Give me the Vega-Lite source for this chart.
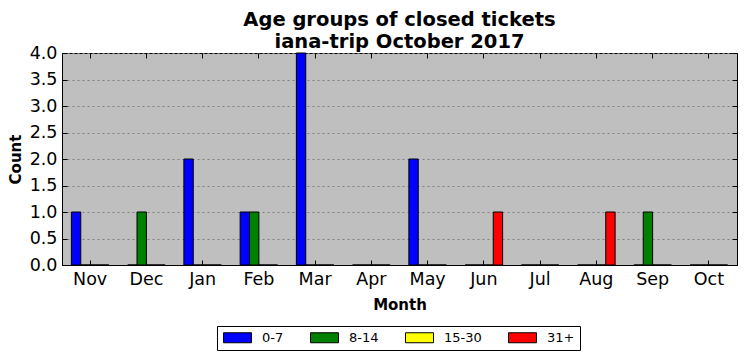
{
  "$schema": "https://vega.github.io/schema/vega-lite/v6.json",
  "width": 675,
  "height": 212,
  "autosize": {"type": "none"},
  "padding": {"left": 62, "top": 53, "right": 9, "bottom": 96},
  "background": "white",
  "title": {
    "text": ["Age groups of closed tickets", "iana-trip October 2017"],
    "font": "DejaVu Sans",
    "fontSize": 19.5,
    "fontWeight": "bold",
    "color": "black",
    "anchor": "middle",
    "lineHeight": 22,
    "offset": -8
  },
  "config": {
    "view": {"fill": "#bfbfbf", "stroke": "black", "strokeWidth": 1},
    "axis": {
      "labelFont": "DejaVu Sans",
      "labelFontSize": 17.5,
      "labelColor": "black",
      "titleFont": "DejaVu Sans",
      "titleFontSize": 15,
      "titleFontWeight": "bold",
      "titleColor": "black",
      "domainColor": "black",
      "tickColor": "black",
      "tickSize": -5,
      "tickWidth": 1
    },
    "legend": {
      "labelFont": "DejaVu Sans",
      "labelFontSize": 13,
      "labelColor": "black"
    }
  },
  "data": {
    "values": [
      {"month": "Nov", "group": "0-7", "count": 1},
      {"month": "Nov", "group": "8-14", "count": 0},
      {"month": "Nov", "group": "15-30", "count": 0},
      {"month": "Nov", "group": "31+", "count": 0},
      {"month": "Dec", "group": "0-7", "count": 0},
      {"month": "Dec", "group": "8-14", "count": 1},
      {"month": "Dec", "group": "15-30", "count": 0},
      {"month": "Dec", "group": "31+", "count": 0},
      {"month": "Jan", "group": "0-7", "count": 2},
      {"month": "Jan", "group": "8-14", "count": 0},
      {"month": "Jan", "group": "15-30", "count": 0},
      {"month": "Jan", "group": "31+", "count": 0},
      {"month": "Feb", "group": "0-7", "count": 1},
      {"month": "Feb", "group": "8-14", "count": 1},
      {"month": "Feb", "group": "15-30", "count": 0},
      {"month": "Feb", "group": "31+", "count": 0},
      {"month": "Mar", "group": "0-7", "count": 4},
      {"month": "Mar", "group": "8-14", "count": 0},
      {"month": "Mar", "group": "15-30", "count": 0},
      {"month": "Mar", "group": "31+", "count": 0},
      {"month": "Apr", "group": "0-7", "count": 0},
      {"month": "Apr", "group": "8-14", "count": 0},
      {"month": "Apr", "group": "15-30", "count": 0},
      {"month": "Apr", "group": "31+", "count": 0},
      {"month": "May", "group": "0-7", "count": 2},
      {"month": "May", "group": "8-14", "count": 0},
      {"month": "May", "group": "15-30", "count": 0},
      {"month": "May", "group": "31+", "count": 0},
      {"month": "Jun", "group": "0-7", "count": 0},
      {"month": "Jun", "group": "8-14", "count": 0},
      {"month": "Jun", "group": "15-30", "count": 0},
      {"month": "Jun", "group": "31+", "count": 1},
      {"month": "Jul", "group": "0-7", "count": 0},
      {"month": "Jul", "group": "8-14", "count": 0},
      {"month": "Jul", "group": "15-30", "count": 0},
      {"month": "Jul", "group": "31+", "count": 0},
      {"month": "Aug", "group": "0-7", "count": 0},
      {"month": "Aug", "group": "8-14", "count": 0},
      {"month": "Aug", "group": "15-30", "count": 0},
      {"month": "Aug", "group": "31+", "count": 1},
      {"month": "Sep", "group": "0-7", "count": 0},
      {"month": "Sep", "group": "8-14", "count": 1},
      {"month": "Sep", "group": "15-30", "count": 0},
      {"month": "Sep", "group": "31+", "count": 0},
      {"month": "Oct", "group": "0-7", "count": 0},
      {"month": "Oct", "group": "8-14", "count": 0},
      {"month": "Oct", "group": "15-30", "count": 0},
      {"month": "Oct", "group": "31+", "count": 0}
    ]
  },
  "layer": [
    {
      "mark": {"type": "bar", "stroke": "black", "strokeWidth": 1, "opacity": 1},
      "encoding": {
        "x": {
          "field": "month",
          "type": "nominal",
          "scale": {
            "domain": ["Nov", "Dec", "Jan", "Feb", "Mar", "Apr", "May", "Jun", "Jul", "Aug", "Sep", "Oct"],
            "paddingInner": 0.3333,
            "paddingOuter": 0.1667
          },
          "axis": {
            "orient": "bottom",
            "title": "Month",
            "labelAngle": 0,
            "labelPadding": 10,
            "titlePadding": 10,
            "grid": false
          }
        },
        "xOffset": {
          "field": "group",
          "type": "nominal",
          "scale": {"domain": ["0-7", "8-14", "15-30", "31+"], "paddingInner": 0, "paddingOuter": 0}
        },
        "y": {
          "field": "count",
          "type": "quantitative",
          "scale": {"domain": [0, 4], "nice": false, "zero": true},
          "axis": {
            "orient": "left",
            "title": "Count",
            "values": [0, 0.5, 1, 1.5, 2, 2.5, 3, 3.5, 4],
            "format": ".1f",
            "labelPadding": 10,
            "titlePadding": 6,
            "grid": true,
            "gridColor": "#7f7f7f",
            "gridDash": [2, 3],
            "gridWidth": 1
          }
        },
        "color": {
          "field": "group",
          "type": "nominal",
          "scale": {
            "domain": ["0-7", "8-14", "15-30", "31+"],
            "range": ["#0000ff", "#008000", "#ffff00", "#ff0000"]
          },
          "legend": {
            "title": null,
            "orient": "none",
            "direction": "horizontal",
            "legendX": 155,
            "legendY": 273,
            "strokeColor": "black",
            "fillColor": "white",
            "padding": 5,
            "columnPadding": 24,
            "labelOffset": 18,
            "symbolType": "M-2.8,-1H2.8V1H-2.8Z",
            "symbolSize": 100,
            "symbolOffset": 9,
            "symbolStrokeColor": "black",
            "symbolStrokeWidth": 1,
            "symbolOpacity": 1
          }
        }
      }
    },
    {
      "mark": {"type": "bar", "opacity": 0},
      "encoding": {
        "x": {
          "field": "month",
          "type": "nominal",
          "axis": {"orient": "top", "labels": false, "title": null, "domain": false, "grid": false}
        },
        "y": {
          "field": "count",
          "type": "quantitative",
          "axis": {
            "orient": "right",
            "labels": false,
            "title": null,
            "domain": false,
            "grid": false,
            "values": [0, 0.5, 1, 1.5, 2, 2.5, 3, 3.5, 4]
          }
        }
      }
    }
  ],
  "resolve": {"axis": {"x": "independent", "y": "independent"}}
}
